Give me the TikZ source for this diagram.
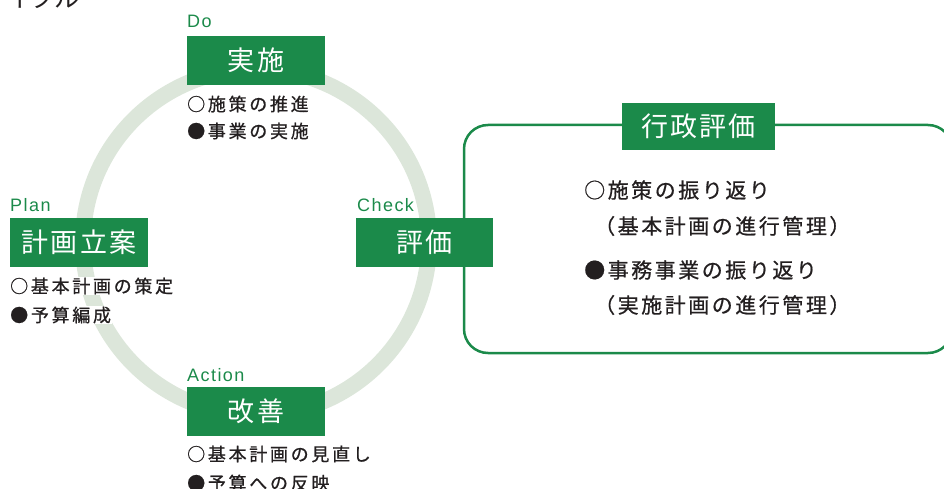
\documentclass[tikz,border=0pt]{standalone}
\usepackage{fontspec}
\setmainfont{Liberation Sans}
\newfontfamily\jpbox{Noto Sans CJK JP}[LetterSpace=8]
\newfontfamily\jpitem{Noto Sans CJK JP}[LetterSpace=15,FakeBold=0.7]
\newfontfamily\jpritem{Noto Sans CJK JP}[LetterSpace=12,FakeBold=0.7]
\newfontfamily\jptitle{Noto Sans CJK JP}
\newfontfamily\latlab{Liberation Sans}[LetterSpace=8]
\definecolor{pgreen}{HTML}{1B8A4A}
\definecolor{ringc}{HTML}{DCE6DA}
\definecolor{textc}{HTML}{231F20}
\begin{document}
\begin{tikzpicture}[x=1pt,y=-1pt,
  ring/.style={draw=ringc,line width=16pt},
  gbox/.style={fill=pgreen,text=white,minimum width=138pt,minimum height=49pt,inner sep=0pt,
    font=\jpbox\fontsize{27}{27}\selectfont},
  tag/.style={text=pgreen,anchor=base west,inner sep=0pt,font=\latlab\fontsize{18}{18}\selectfont},
  item/.style={anchor=west,fill=white,inner sep=1pt,text=textc,
    font=\jpitem\fontsize{18}{18}\selectfont},
  ritem/.style={anchor=west,inner sep=0pt,text=textc,
    font=\jpritem\fontsize{21}{21}\selectfont},
  frame/.style={draw=pgreen,line width=2.5pt,rounded corners=24pt}
]
\useasboundingbox (0,0) rectangle (944,489);
\clip (0,0) rectangle (944,489);
% title fragment
\node[anchor=base west,inner sep=0pt,text=textc,font=\jptitle\fontsize{25}{25}\selectfont] (title) at (6,8) {イクル};
% ring
\draw[ring] (256,242) circle[radius=173];
% frame of right panel
\draw[frame] (464,125) rectangle (952,353);
% boxes
\node[gbox] (do) at (256,60.5) {実施};
\node[gbox] (plan) at (79,242.5) {計画立案};
\node[gbox,minimum width=137pt] (check) at (424.5,242.5) {評価};
\node[gbox] (act) at (256,411.5) {改善};
\node[gbox,minimum width=153pt,minimum height=47pt] (gov) at (698.5,126.5) {行政評価};
% tags
\node[tag] (dotag) at (187,28) {Do};
\node[tag] (plantag) at (10,211) {Plan};
\node[tag] (checktag) at (357,211) {Check};
\node[tag] (acttag) at (187,381) {Action};
% items
\node[item] (do1) at (186,104) {○施策の推進};
\node[item] (do2) at (186,131) {●事業の実施};
\node[item] (pl1) at (9,286) {○基本計画の策定};
\node[item] (pl2) at (9,315) {●予算編成};
\node[item] (ac1) at (186,454) {○基本計画の見直し};
\node[item] (ac2) at (186,483) {●予算への反映};
% right panel items
\node[ritem] (r1) at (584,190) {○施策の振り返り};
\node[ritem] (r2) at (594,226) {（基本計画の進行管理）};
\node[ritem] (r3) at (584,270) {●事務事業の振り返り};
\node[ritem] (r4) at (594,305) {（実施計画の進行管理）};
\end{tikzpicture}
\end{document}
